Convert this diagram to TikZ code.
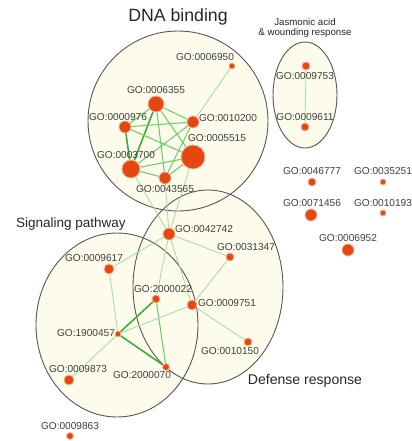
\documentclass[tikz,border=0pt]{standalone}
\usepackage{fontspec}
\setmainfont{Liberation Sans}
\usetikzlibrary{positioning}
\pgfdeclarelayer{background}
\pgfdeclarelayer{liens}
\pgfsetlayers{background,liens,main}
\definecolor{fond}{RGB}{253,252,236}
\definecolor{bord}{RGB}{90,90,85}
\definecolor{goro}{RGB}{228,72,16}
\definecolor{halo}{RGB}{242,178,155}
\definecolor{vfort}{RGB}{55,172,55}
\definecolor{vmoy}{RGB}{105,208,100}
\definecolor{vclair}{RGB}{160,226,150}
\tikzset{
  term/.style={circle,fill=goro,draw=halo,line width=0.6pt,inner sep=0pt,minimum size=#1*0.025cm},
  lbl/.style={font=\fontsize{7.2}{8}\selectfont,text=black!75,inner sep=0pt},
  titre/.style={font=\fontsize{#1}{#1}\selectfont,text=black!85,inner sep=0pt,align=center},
  lienA/.style={draw=vfort,line width=1.1pt},
  lienB/.style={draw=vmoy,line width=0.75pt},
  lienC/.style={draw=vclair,line width=0.6pt},
  groupe/.style={draw=bord,line width=0.65pt}
}
\begin{document}
\begin{tikzpicture}[x=0.025cm,y=-0.025cm]
\useasboundingbox (0,0) rectangle (412,441);
% les groupes
\begin{pgfonlayer}{background}
\fill[fond](178,121) ellipse [x radius=90,y radius=90];
\fill[fond](305,95) ellipse [x radius=32,y radius=53];
\fill[fond](117,325) ellipse [x radius=81,y radius=92];
\fill[fond](208,287) ellipse [x radius=75,y radius=97];
\draw[groupe](178,121) ellipse [x radius=90,y radius=90];
\draw[groupe](305,95) ellipse [x radius=32,y radius=53];
\draw[groupe](117,325) ellipse [x radius=81,y radius=92];
\draw[groupe](208,287) ellipse [x radius=75,y radius=97];
\end{pgfonlayer}
\node[titre=12.6] (tDNA) at (178,17) {DNA binding};
\node[titre=6.9] (tJA) at (305,28) {Jasmonic acid\\\& wounding response};
\node[titre=9.6] (tSig) at (71,224) {Signaling pathway};
\node[titre=10] (tDef) at (305,381) {Defense response};
% les termes GO : id/x/y/taille/x label/y label
\foreach \id/\x/\y/\d/\lx/\ly in {
  0006950/232/66/6/205/57, 0006355/156/104/16/156/90, 0000976/125/127/12/118/117,
  0010200/193/122/12/228/118, 0005515/193/157/24/217/138, 0003700/131/169/18/126/155,
  0043565/165/178/12/165/189, 0009753/306/66/8/305/76, 0009611/305/127/8/305/117,
  0046777/312/182/8/312/171, 0035251/383/182/6/383/171, 0071456/311/215/12/312/203,
  0010193/383/213/6/383/203, 0006952/348/250/12/348/238, 0042742/169/234/12/204/229,
  0031347/230/257/8/246/247, 0009617/109/269/10/94/258, 2000022/156/299/8/163/289,
  0009751/192/305/10/227/303, 1900457/118/334/6/86/333, 0010150/248/342/8/230/351,
  0009873/69/380/10/78/369, 2000070/166/367/7/142/375, 0009863/70/436/7/70/426}{
  \node[term=\d] (n\id) at (\x,\y) {};
  \node[lbl] (l\id) at (\lx,\ly) {GO:\id};
}
% les liens
\begin{pgfonlayer}{liens}
\foreach \a/\b in {0006355/0003700, 0000976/0003700, 1900457/2000022, 1900457/2000070}
  \draw[lienA] (n\a) -- (n\b);
\foreach \a/\b in {0006355/0000976, 0006355/0010200, 0006355/0043565, 0006355/0005515,
  0000976/0010200, 0000976/0005515, 0003700/0010200, 0003700/0005515, 0003700/0043565,
  0010200/0043565, 0043565/0005515, 2000022/2000070}
  \draw[lienB] (n\a) -- (n\b);
\foreach \a/\b in {0006950/0010200, 0009753/0009611, 0003700/0042742, 0043565/0042742,
  0005515/0042742, 0042742/0009617, 0042742/0031347, 0042742/2000022, 0042742/0009751,
  0031347/0009751, 0009751/0010150, 0009751/1900457, 0009617/1900457, 1900457/0009873}
  \draw[lienC] (n\a) -- (n\b);
\end{pgfonlayer}
\end{tikzpicture}
\end{document}
